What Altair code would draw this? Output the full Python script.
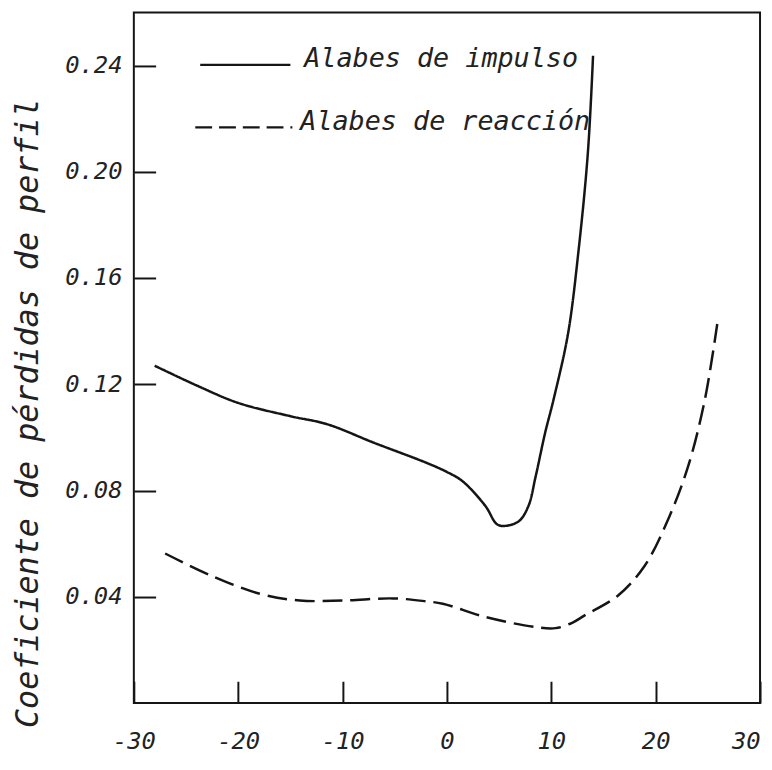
import altair as alt
import pandas as pd

# ---- data ----
impulso_x = [-28, -24, -20, -15, -11.5, -7, -2, 0, 1.5, 3.7, 4.8, 5.6, 6.9, 7.8, 8.5, 9.4, 10.2, 11.6, 12.6, 13.5, 14.0]
impulso_y = [0.127, 0.1196, 0.113, 0.108, 0.105, 0.098, 0.0905, 0.087, 0.0835, 0.0741, 0.0673, 0.0667, 0.0685, 0.0741,
             0.0853, 0.1016, 0.114, 0.139, 0.170, 0.207, 0.2437]
reaccion_x = [-27, -22.6, -17.9, -14.1, -9.9, -5.2, -2, -0.4, 3.7, 8.5, 10.4, 12.0, 13.2, 16.4, 18.95, 21.2, 23.1, 24.7, 25.9]
reaccion_y = [0.0563, 0.048, 0.0411, 0.0386, 0.0386, 0.0394, 0.0383, 0.0374, 0.0324, 0.0286, 0.0282, 0.0302, 0.033,
              0.0405, 0.0517, 0.0692, 0.089, 0.114, 0.1427]
x_ticks = [-30, -20, -10, 0, 10, 20, 30]
y_ticks = [0.04, 0.08, 0.12, 0.16, 0.20, 0.24]
series_names = ["Alabes de impulso", "Alabes de reacción"]
y_title = "Coeficiente de pérdidas de perfil"

df = pd.concat([
    pd.DataFrame({"x": impulso_x, "y": impulso_y, "serie": series_names[0]}),
    pd.DataFrame({"x": reaccion_x, "y": reaccion_y, "serie": series_names[1]}),
], ignore_index=True)

W, H = 632, 697
FONT = "DejaVu Sans Mono"
INK = "#151515"

x_scale = alt.Scale(domain=[-30, 30], nice=False, zero=False)
y_scale = alt.Scale(domain=[0, 0.26], nice=False, zero=False)

x_axis = alt.Axis(values=x_ticks, labelExpr="'' + datum.value", title=None, domain=False, grid=False,
                  tickSize=22, offset=-22, tickColor=INK, tickWidth=2,
                  labelFont=FONT, labelFontStyle="italic", labelFontSize=24, labelColor="#222",
                  labelPadding=27, labelFlush=False, labelOverlap=False, labelBound=False,
                  labelAlign=alt.ExprRef(expr="datum.value == 30 ? 'right' : 'center'"))
y_axis = alt.Axis(values=y_ticks, format=".2f", title=y_title, domain=False, grid=False,
                  tickSize=22, offset=-22, tickColor=INK, tickWidth=2,
                  labelFont=FONT, labelFontStyle="italic", labelFontSize=24, labelColor="#222",
                  labelPadding=12, labelFlush=False, labelOverlap=False, labelBound=False,
                  titleFont=FONT, titleFontStyle="italic", titleFontSize=32, titleFontWeight="normal",
                  titleColor="#222", titleX=-129, titleY=404, titleAngle=270, titleAlign="center",
                  titleBaseline="middle")

lines = alt.Chart(df).mark_line(strokeWidth=2.5, color=INK, interpolate="catmull-rom").encode(
    x=alt.X("x:Q", scale=x_scale, axis=x_axis),
    y=alt.Y("y:Q", scale=y_scale, axis=y_axis),
    strokeDash=alt.StrokeDash("serie:N", scale=alt.Scale(domain=series_names, range=[[1, 0], [20, 8]]),
                              legend=None),
    detail="serie:N",
)

leg1 = pd.DataFrame({"t": [series_names[0]]})
leg2 = pd.DataFrame({"t": [series_names[1]]})

rule1 = alt.Chart(leg1).mark_rule(strokeWidth=2.2, color=INK).encode(
    x=alt.value(67), x2=alt.value(158), y=alt.value(53))
rule2 = alt.Chart(leg2).mark_rule(strokeWidth=2.2, color=INK, strokeDash=[17, 7]).encode(
    x=alt.value(62), x2=alt.value(160), y=alt.value(116))
text1 = alt.Chart(leg1).mark_text(align="left", baseline="alphabetic", font=FONT, fontStyle="italic",
                                  fontSize=27, color="#222").encode(
    x=alt.value(172), y=alt.value(55), text="t:N")
text2 = alt.Chart(leg2).mark_text(align="left", baseline="alphabetic", font=FONT, fontStyle="italic",
                                  fontSize=27, color="#222").encode(
    x=alt.value(168), y=alt.value(119), text="t:N")

chart = alt.layer(lines, rule1, rule2, text1, text2).properties(
    width=W, height=H,
    padding={"left": 127, "top": 1, "right": 4, "bottom": 55},
    autosize=alt.AutoSizeParams(type="none"),
    background="white",
).configure_view(stroke=INK, strokeWidth=2)

chart.save("out.html", embed_options={"renderer": "svg", "actions": False})
